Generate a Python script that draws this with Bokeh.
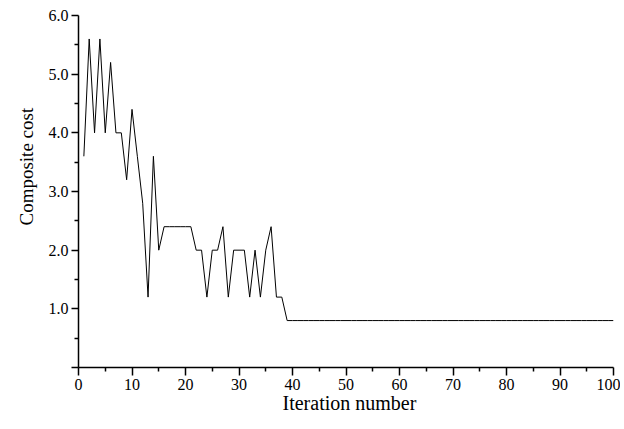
from bokeh.plotting import figure
from bokeh.models import FixedTicker, Range1d, PrintfTickFormatter, Title
from bokeh.embed import file_html
from bokeh.resources import INLINE

# Data
iterations = list(range(1, 101))
cost = [3.6, 5.6, 4.0, 5.6, 4.0, 5.2, 4.0, 4.0, 3.2, 4.4,
        3.6, 2.8, 1.2, 3.6, 2.0, 2.4, 2.4, 2.4, 2.4, 2.4,
        2.4, 2.0, 2.0, 1.2, 2.0, 2.0, 2.4, 1.2, 2.0, 2.0,
        2.0, 1.2, 2.0, 1.2, 2.0, 2.4, 1.2, 1.2, 0.8, 0.8,
        0.8, 0.8, 0.8, 0.8, 0.8, 0.8, 0.8, 0.8, 0.8, 0.8,
        0.8, 0.8, 0.8, 0.8, 0.8, 0.8, 0.8, 0.8, 0.8, 0.8,
        0.8, 0.8, 0.8, 0.8, 0.8, 0.8, 0.8, 0.8, 0.8, 0.8,
        0.8, 0.8, 0.8, 0.8, 0.8, 0.8, 0.8, 0.8, 0.8, 0.8,
        0.8, 0.8, 0.8, 0.8, 0.8, 0.8, 0.8, 0.8, 0.8, 0.8,
        0.8, 0.8, 0.8, 0.8, 0.8, 0.8, 0.8, 0.8, 0.8, 0.8]
x_ticks = [0, 10, 20, 30, 40, 50, 60, 70, 80, 90, 100]
x_minor = [5, 15, 25, 35, 45, 55, 65, 75, 85, 95]
y_ticks = [0, 1, 2, 3, 4, 5, 6]
y_minor = [0.5, 1.5, 2.5, 3.5, 4.5, 5.5]
x_title = "Iteration number"
y_title = "Composite cost"

FONT = "Liberation Serif"

p = figure(width=620, height=425, output_backend="svg", toolbar_location=None,
           x_range=Range1d(0, 100), y_range=Range1d(0, 6),
           min_border_left=78, min_border_right=7, min_border_top=15, min_border_bottom=58)
p.outline_line_color = None
p.grid.visible = False
p.background_fill_color = "white"
p.border_fill_color = "white"

p.line(iterations, cost, line_color="black", line_width=1)

p.axis.axis_line_color = "black"
p.axis.axis_line_width = 1.5
p.axis.major_tick_line_color = "black"
p.axis.major_tick_line_width = 1.5
p.axis.minor_tick_line_color = "black"
p.axis.minor_tick_line_width = 1.5
p.axis.major_tick_in = 0
p.axis.minor_tick_in = 0
p.axis.major_label_text_font = FONT
p.axis.major_label_text_font_size = "16px"
p.axis.major_label_text_color = "black"

p.xaxis.ticker = FixedTicker(ticks=x_ticks, minor_ticks=x_minor)
p.xaxis.major_tick_out = 8
p.xaxis.minor_tick_out = 4
p.xaxis.major_label_standoff = 3

p.yaxis.ticker = FixedTicker(ticks=y_ticks, minor_ticks=y_minor)
p.yaxis.formatter = PrintfTickFormatter(format="%.1f")
p.yaxis.major_label_overrides = {0: ""}
p.yaxis.major_tick_out = 7
p.yaxis.minor_tick_out = 4
p.yaxis.major_label_standoff = 3

p.add_layout(Title(text=x_title, text_font=FONT, text_font_size="20px", text_font_style="normal",
                   text_color="black", align="left", offset=204, standoff=-6), "below")
p.add_layout(Title(text=y_title, text_font=FONT, text_font_size="19px", text_font_style="normal",
                   text_color="black", align="left", offset=142, standoff=18), "left")

open("out.html", "w").write(file_html(p, INLINE))
